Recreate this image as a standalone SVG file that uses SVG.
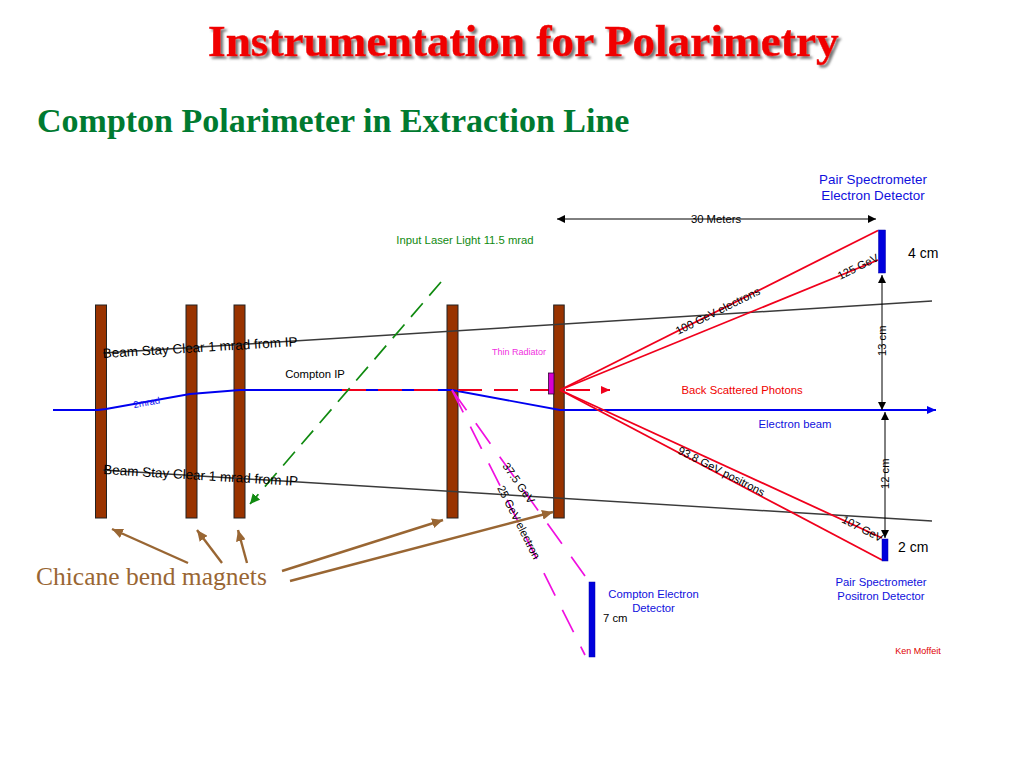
<svg xmlns="http://www.w3.org/2000/svg" width="1024" height="768" viewBox="0 0 1024 768">
<style>
text{font-family:"Liberation Sans",Arial,sans-serif;font-size:11.300px;fill:#000}
.serif{font-family:"Liberation Serif","Times New Roman",serif}
.small{font-size:11.200px}
.magnet{fill:#993300;stroke:#222;stroke-width:1}
.det{fill:#0000dd;stroke:#0000aa;stroke-width:.5}
.beam{fill:none;stroke:#0000f0;stroke-width:1.900}
.ray{fill:none;stroke:#f0001c;stroke-width:1.800}
.stay{fill:none;stroke:#3a3a3a;stroke-width:1.500}
.dim{fill:none;stroke:#000;stroke-width:1;marker-end:url(#ak);marker-start:url(#aks)}
.call{fill:none;stroke:#996633;stroke-width:2.400;marker-end:url(#abr)}
.mag{fill:none;stroke:#f010e0;stroke-width:1.700;stroke-dasharray:25 16}
</style>
<defs>
<marker id="ak" markerUnits="userSpaceOnUse" markerWidth="9" markerHeight="8" refX="8" refY="4" orient="auto"><path d="M0 0L8 4L0 8z" fill="#000"/></marker>
<marker id="aks" markerUnits="userSpaceOnUse" markerWidth="9" markerHeight="8" refX="0" refY="4" orient="auto"><path d="M8 0L0 4L8 8z" fill="#000"/></marker>
<marker id="abl" markerUnits="userSpaceOnUse" markerWidth="10" markerHeight="8" refX="9" refY="4" orient="auto"><path d="M0 0L9 4L0 8z" fill="#0000f0"/></marker>
<marker id="ard" markerUnits="userSpaceOnUse" markerWidth="10" markerHeight="8" refX="9" refY="4" orient="auto"><path d="M0 0L9 4L0 8z" fill="#f0001c"/></marker>
<marker id="agr" markerUnits="userSpaceOnUse" markerWidth="11" markerHeight="10" refX="10" refY="5" orient="auto"><path d="M0 0L10 5L0 10z" fill="#108a10"/></marker>
<marker id="abr" markerUnits="userSpaceOnUse" markerWidth="12" markerHeight="10" refX="11" refY="5" orient="auto"><path d="M0 0L11 5L0 10z" fill="#996633"/></marker>
<filter id="sh" x="-5%" y="-20%" width="110%" height="150%"><feDropShadow dx="2.500" dy="2.500" stdDeviation="1" flood-color="#777"/></filter>
</defs>

<g id="magnets">
<rect id="magnet1" class="magnet" x="95.500" y="305" width="11" height="213"/>
<rect id="magnet2" class="magnet" x="186" y="305" width="11" height="213"/>
<rect id="magnet3" class="magnet" x="234" y="305" width="11" height="213"/>
<rect id="magnet4" class="magnet" x="447" y="305" width="11" height="213"/>
<rect id="magnet5" class="magnet" x="553.700" y="305" width="10.500" height="213"/>
</g>

<g id="connectors">
<path class="stay" d="M103 353L932 301"/>
<path class="stay" d="M103 470L932 521"/>
<path class="beam" d="M53 410L98 410L106 409L190 394L240 390L452 390L560 410L936 410" marker-end="url(#abl)"/>
<path class="ray" d="M342 390L447 390" stroke-dasharray="24 12"/>
<path class="ray" d="M458 390L610 390" stroke-dasharray="24 12" marker-end="url(#ard)"/>
<path class="ray" d="M560 390L878 230.500"/>
<path class="ray" d="M560 390L878 260"/>
<path class="ray" d="M560 390L882 538"/>
<path class="ray" d="M560 390L882 560"/>
<path class="mag" d="M452 390L585 576"/>
<path class="mag" d="M452 390L585 655"/>
<path d="M441 282L250 504" fill="none" stroke="#108a10" stroke-width="1.700" stroke-dasharray="18 10" marker-end="url(#agr)"/>
<path class="dim" d="M557 219L876 219"/>
<path class="dim" d="M882 275L882 410"/>
<path class="dim" d="M885 412L885 538"/>
<path class="call" d="M188 563L112 529"/>
<path class="call" d="M222 563L197 530"/>
<path class="call" d="M247 563L238 530"/>
<path class="call" d="M282 571L443 520"/>
<path class="call" d="M290 581L553 512"/>
</g>

<g id="radiator"><rect x="548.500" y="373" width="5.500" height="21" fill="#d800d0" stroke="#330033" stroke-width=".8"/></g>
<g id="detector-electron"><rect class="det" x="878.500" y="230" width="7" height="43"/></g>
<g id="detector-positron"><rect class="det" x="882" y="539" width="6" height="22"/></g>
<g id="detector-compton"><rect class="det" x="589" y="582" width="6" height="75"/></g>

<g id="labels">
<text class="serif" x="208" y="56" style="font-size:45.300px;font-weight:700;fill:#f00000;stroke:#f00000;stroke-width:.5" filter="url(#sh)">Instrumentation for Polarimetry</text>
<text class="serif" x="37" y="132" style="font-size:34px;font-weight:700;fill:#007a30">Compton Polarimeter in Extraction Line</text>
<text class="serif" x="36" y="585" style="font-size:25.500px;fill:#996633">Chicane bend magnets</text>
<text x="873" y="184" text-anchor="middle" style="font-size:13.400px;fill:#1010dd">Pair Spectrometer</text>
<text x="873" y="200" text-anchor="middle" style="font-size:13.400px;fill:#1010dd">Electron Detector</text>
<text x="716" y="223" text-anchor="middle">30 Meters</text>
<text x="465" y="244" text-anchor="middle" style="fill:#108a10">Input Laser Light 11.5 mrad</text>
<text x="908" y="258" style="font-size:14px">4 cm</text>
<text x="315" y="378" text-anchor="middle">Compton IP</text>
<text x="519" y="355" text-anchor="middle" style="font-size:9px;fill:#f030e0">Thin Radiator</text>
<text x="742" y="394" text-anchor="middle" style="fill:#f00000">Back Scattered Photons</text>
<text x="795" y="428" text-anchor="middle" style="fill:#1010dd">Electron beam</text>
<text x="898" y="552" style="font-size:14px">2 cm</text>
<text x="881" y="586" text-anchor="middle" style="fill:#1010dd">Pair Spectrometer</text>
<text x="881" y="600" text-anchor="middle" style="fill:#1010dd">Positron Detector</text>
<text x="653.500" y="598" text-anchor="middle" style="fill:#1010dd">Compton Electron</text>
<text x="653.500" y="612" text-anchor="middle" style="fill:#1010dd">Detector</text>
<text x="603" y="622">7 cm</text>
<text x="918" y="654" text-anchor="middle" style="font-size:9px;fill:#e00000">Ken Moffeit</text>
<text transform="translate(103 358) rotate(-3.500)" style="font-size:13.500px">Beam Stay Clear 1 mrad from IP</text>
<text transform="translate(103 474) rotate(3.500)" style="font-size:13.500px">Beam Stay Clear 1 mrad from IP</text>
<text transform="translate(134 408) rotate(-10)" style="font-size:9.500px;fill:#1010ee">2mrad</text>
<text class="small" transform="translate(678 335) rotate(-26.500)">100 GeV electrons</text>
<text class="small" transform="translate(840 280) rotate(-26.500)">125 GeV</text>
<text class="small" transform="translate(677 453) rotate(27)">93.8 GeV positrons</text>
<text class="small" transform="translate(841 522) rotate(27)">107 GeV</text>
<text class="small" transform="translate(886 356) rotate(-90)">13 cm</text>
<text class="small" transform="translate(889 489) rotate(-90)">12 cm</text>
<text class="small" transform="translate(502 466) rotate(55)">37.5 GeV</text>
<text class="small" transform="translate(497 488) rotate(63)">25 GeV electron</text>
</g>
</svg>
